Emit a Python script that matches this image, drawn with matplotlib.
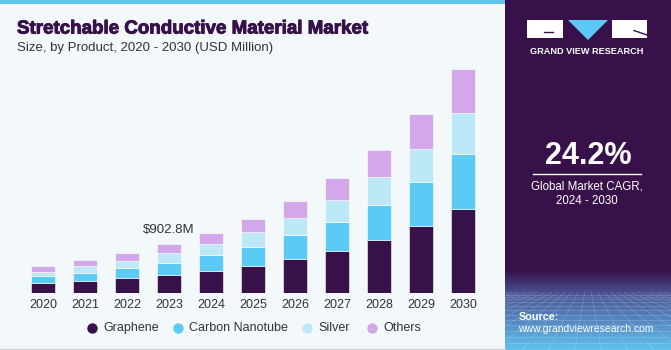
import numpy as np
import matplotlib.pyplot as plt
import matplotlib.patheffects as pe
from matplotlib.patches import Rectangle, Polygon, Circle
from matplotlib.lines import Line2D

# market size by product, USD million
years = ['2020', '2021', '2022', '2023', '2024', '2025', '2026', '2027', '2028', '2029', '2030']
graphene = [183, 225, 280, 341, 414, 500, 628, 775, 981, 1232, 1544]
carbon_nanotube = [134, 152, 189, 220, 282, 353, 434, 525, 635, 806, 1007]
silver = [79, 123, 128, 183, 207, 269, 322, 403, 507, 604, 756]
others = [104, 110, 146, 159, 196, 244, 300, 403, 494, 635, 795]
series_names = ['Graphene', 'Carbon Nanotube', 'Silver', 'Others']
colors = ['#38104a', '#5bcaf5', '#bde8f8', '#d3a8eb']
label_year = 3
label_text = '$902.8M'

W, H = 671, 350
plt.rcParams['font.family'] = ['Liberation Sans', 'DejaVu Sans']

fig = plt.figure(figsize=(W / 100, H / 100), dpi=100)
fig.patch.set_facecolor('white')


def fx(x):
    return x / W


def fy(y):
    return 1 - y / H


# backgrounds
fig.add_artist(Rectangle((0, 0), fx(505), 1, transform=fig.transFigure,
                         facecolor='#f3f8fb', edgecolor='none', zorder=0))
fig.add_artist(Rectangle((0, fy(4)), fx(505), 4 / H, transform=fig.transFigure,
                         facecolor='#5ec5ef', edgecolor='none', zorder=1))
fig.add_artist(Line2D([0, fx(505)], [fy(348.5)] * 2, transform=fig.transFigure,
                      color='#cfd3d6', lw=1, zorder=1))
fig.add_artist(Rectangle((fx(505), 0), 1 - fx(505), 1, transform=fig.transFigure,
                         facecolor='#38114a', edgecolor='none', zorder=0))

# gradient + grid at bottom of side panel
gax = fig.add_axes([fx(505), 0, 1 - fx(505), 80 / H])
top = np.array([0x38, 0x11, 0x4a]) / 255
mid = np.array([0x4a, 0x55, 0x96]) / 255
bot = np.array([0x62, 0xc0, 0xee]) / 255
img = np.zeros((100, 1, 3))
for i in range(100):
    g = i / 99
    if g < 0.3:
        t = g / 0.3
        img[i, 0] = top * (1 - t) + mid * t
    else:
        t = (g - 0.3) / 0.7
        img[i, 0] = mid * (1 - t) + bot * t
gax.imshow(img, aspect='auto', extent=[0, 1, 1, 0])
for k in range(1, 14):
    yy = 0.3 + (k / 13) ** 1.6 * 0.7
    gax.plot([0, 1], [yy, yy], color='white', alpha=0.18, lw=0.6)
for xv in np.linspace(-1.5, 2.5, 26):
    gax.plot([0.5 + (xv - 0.5) * 0.25, xv], [0.28, 1], color='white', alpha=0.18, lw=0.6)
gax.set_xlim(0, 1)
gax.set_ylim(1, 0)
gax.axis('off')

# chart
ax = fig.add_axes([fx(22), 1 - 293.3 / H, fx(462), 233.3 / H])
ax.set_facecolor('none')
x = np.arange(len(years))
bottom = np.zeros(len(years))
for vals, c, name in zip([graphene, carbon_nanotube, silver, others], colors, series_names):
    ax.bar(x, vals, width=0.57, bottom=bottom, color=c, edgecolor='#ffffff',
           linewidth=0.4, label=name, zorder=2)
    bottom += np.array(vals)
ax.set_xlim(-0.5, len(years) - 0.5)
ax.set_ylim(0, 4272)
ax.set_xticks(x)
ax.set_xticklabels(years, fontsize=9, color='#333333')
ax.tick_params(axis='x', length=0, pad=4)
ax.set_yticks([])
for s in ax.spines.values():
    s.set_visible(False)
ax.annotate(label_text, (label_year, bottom[label_year]), xytext=(0, 8),
            textcoords='offset points', ha='center', va='baseline',
            fontsize=9.5, color='#333333')

# legend, placed by hand
marker_x = [92, 178, 307, 372]
for mx, c, name in zip(marker_x, colors, series_names):
    fig.add_artist(Line2D([fx(mx)], [fy(328)], transform=fig.transFigure, marker='o',
                          markersize=7.5, markerfacecolor=c, markeredgecolor='none',
                          linestyle=''))
    fig.text(fx(mx + 11), fy(328), name, fontsize=9, color='#333333',
             ha='left', va='center')

# titles
fig.text(fx(17), fy(29), 'Stretchable Conductive Material Market', fontsize=13.5,
         fontweight='bold', color='#38114a', va='center', ha='left',
         path_effects=[pe.withStroke(linewidth=0.7, foreground='#38114a')])
fig.text(fx(17), fy(48), 'Size, by Product, 2020 - 2030 (USD Million)', fontsize=9.5,
         color='#333333', va='center', ha='left')

# logo
fig.add_artist(Rectangle((fx(527), fy(38)), 36 / W, 18 / H, transform=fig.transFigure,
                         facecolor='white', edgecolor='none', zorder=3))
fig.add_artist(Line2D([fx(544), fx(553)], [fy(31.5)] * 2, transform=fig.transFigure,
                      color='#38114a', lw=1, zorder=4))
fig.add_artist(Polygon([(fx(568), fy(20)), (fx(608), fy(20)), (fx(588), fy(40))],
                       transform=fig.transFigure, facecolor='#5bc8f5',
                       edgecolor='none', zorder=4))
fig.add_artist(Rectangle((fx(612), fy(38)), 35 / W, 18 / H, transform=fig.transFigure,
                         facecolor='white', edgecolor='none', zorder=3))
fig.add_artist(Line2D([fx(634), fx(647)], [fy(30.5), fy(35)], transform=fig.transFigure,
                      color='#38114a', lw=1, zorder=4))
fig.text(fx(587), fy(51.5), 'GRAND VIEW RESEARCH', fontsize=6.6, fontweight='bold',
         color='white', ha='center', va='center')

# CAGR
fig.text(fx(588), fy(156), '24.2%', fontsize=22, fontweight='bold', color='white',
         ha='center', va='center')
fig.add_artist(Line2D([fx(533), fx(641)], [fy(173.5)] * 2, transform=fig.transFigure,
                      color='white', lw=1))
fig.text(fx(587), fy(186), 'Global Market CAGR,', fontsize=8.3, color='white',
         ha='center', va='center')
fig.text(fx(587), fy(201), '2024 - 2030', fontsize=8.3, color='white',
         ha='center', va='center')

# source
fig.text(fx(519), fy(316.5), 'Source:', fontsize=7.8, fontweight='bold', color='white',
         ha='left', va='center', zorder=5)
fig.text(fx(518), fy(329.5), 'www.grandviewresearch.com', fontsize=7.5, color='white',
         ha='left', va='center', zorder=5)

fig.savefig('out.png', dpi=100)
